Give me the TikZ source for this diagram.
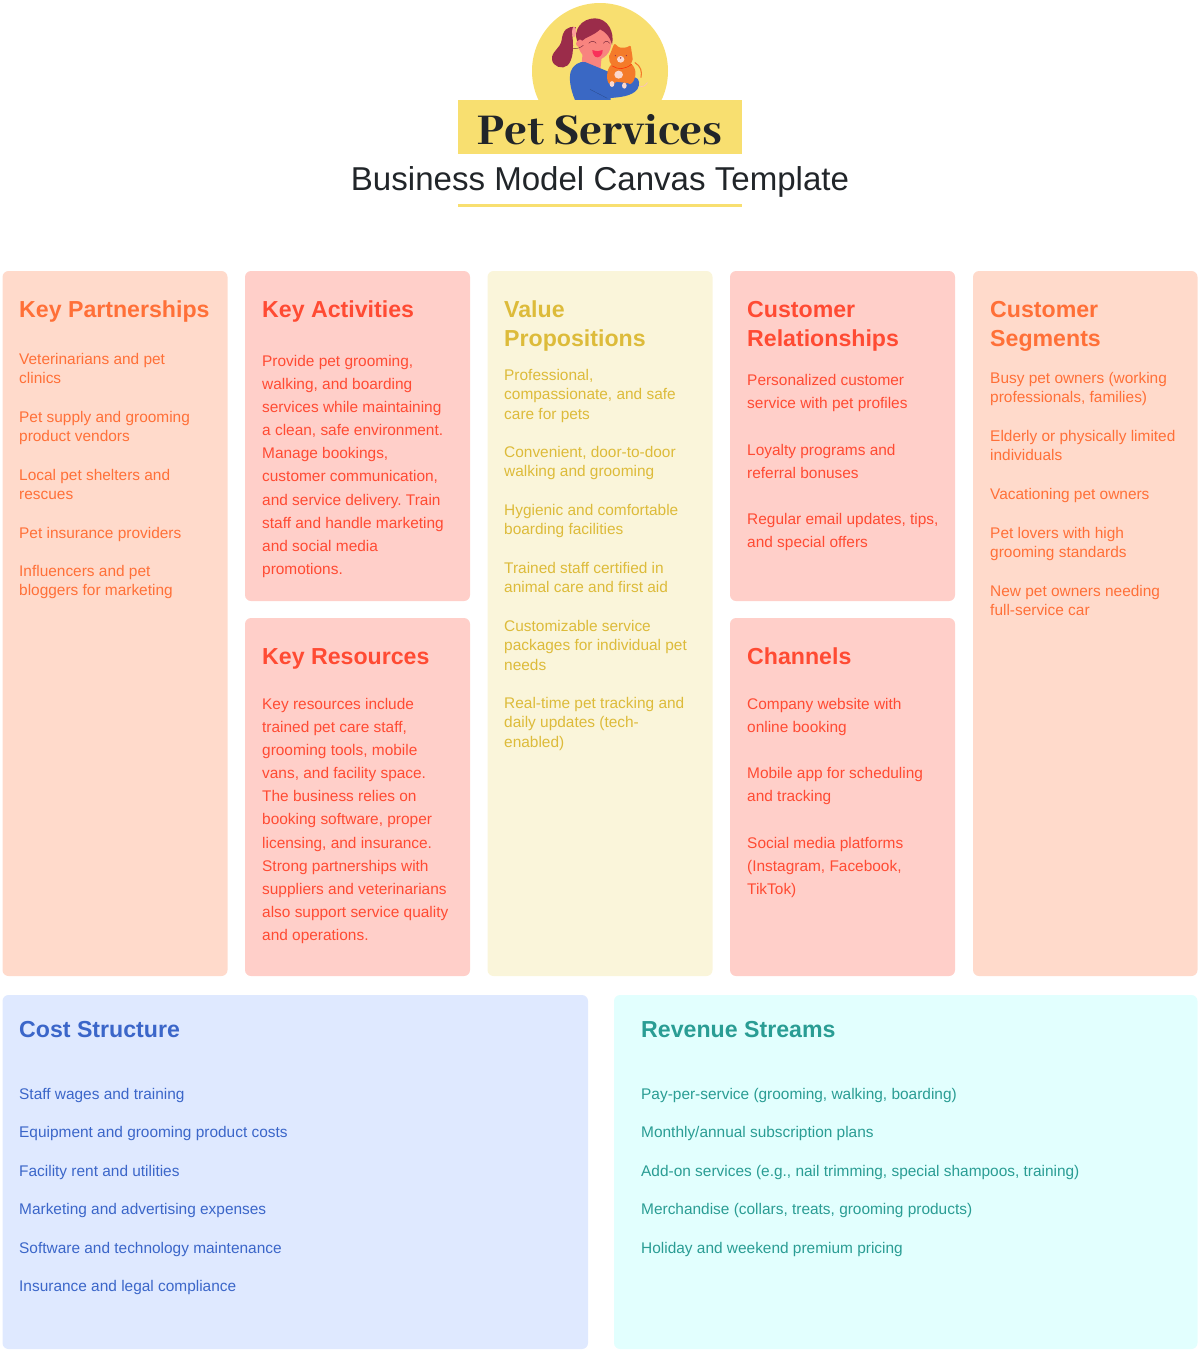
\documentclass[tikz,border=0pt]{standalone}
\usepackage{fontspec}
\setmainfont{Liberation Sans}
\newfontfamily\titlefont{Abhaya Libre ExtraBold}
\newcommand{\st}{\strut}
\frenchspacing
\definecolor{peachbg}{HTML}{FFDACB}\definecolor{peachtx}{HTML}{FF7038}
\definecolor{redbg}{HTML}{FFCFC9}\definecolor{redtx}{HTML}{FF4B33}
\definecolor{yelbg}{HTML}{FAF5DA}\definecolor{yeltx}{HTML}{DDBB3A}
\definecolor{blubg}{HTML}{DFE9FF}\definecolor{blutx}{HTML}{3B66C9}
\definecolor{cyabg}{HTML}{E2FFFE}\definecolor{cyatx}{HTML}{2A9D94}
\definecolor{sun}{HTML}{F8DF70}\definecolor{ink}{HTML}{212529}
\definecolor{hair}{HTML}{9B2C4A}\definecolor{skin}{HTML}{F8847F}
\definecolor{shirt}{HTML}{3A68C4}\definecolor{catf}{HTML}{F47B2A}
\definecolor{pale}{HTML}{FBD8CE}\definecolor{mouthc}{HTML}{F9305A}
\tikzset{
 panel/.style={rounded corners=6pt,draw=none},
 headA/.style={font=\bfseries\fontsize{23.15}{29}\selectfont,inner sep=0pt,align=left,anchor=north west,yshift=20.3pt},
 listA/.style={font=\fontsize{15.43}{19.2}\selectfont,inner sep=0pt,align=left,anchor=north west,yshift=13.44pt},
 listB/.style={font=\fontsize{15.43}{23.05}\selectfont,inner sep=0pt,align=left,anchor=north west,yshift=16.13pt},
}
\begin{document}
\begin{tikzpicture}[x=1pt,y=-1pt]
\useasboundingbox (0,0) rectangle (1200,1352);
% logo
\fill[sun] (600,71) circle[radius=68];
\begin{scope}[shift={(520,0)},x=0.3333pt,y=-0.3333pt]
 \fill[hair] (168,82) .. controls (142,76) and (128,92) .. (125,120) .. controls (122,145) and (93,155) .. (96,178) .. controls (98,200) and (128,210) .. (143,196) .. controls (158,180) and (162,150) .. (157,105) -- cycle;
 \fill[skin!60!pink] (162,96) ellipse[x radius=6,y radius=16];
 \fill[skin] (188,160) -- (185,190) -- (240,222) -- (245,170) -- cycle;
 \fill[skin] (224,128) ellipse[x radius=50,y radius=53];
 \fill[hair] (172,125) .. controls (158,90) and (185,55) .. (225,55) .. controls (262,55) and (285,95) .. (276,135) .. controls (270,108) and (255,95) .. (240,88) .. controls (225,105) and (195,112) .. (187,122) .. controls (180,116) and (174,118) .. (172,125) -- cycle;
 \fill[skin] (178,131) circle[radius=10];
 \draw[hair!70!black,line width=0.4pt,line cap=round] (206,130) .. controls (214,122) and (222,122) .. (229,130);
 \draw[hair!70!black,line width=0.4pt,line cap=round] (250,130) .. controls (255,122) and (264,122) .. (269,130);
 \draw[hair!70!black,line width=0.4pt,line cap=round] (160,146) .. controls (170,147) and (182,143) .. (190,136);
 \fill[mouthc] (217,150) .. controls (230,155) and (240,154) .. (248,150) .. controls (249,165) and (238,172) .. (232,172) .. controls (224,172) and (217,162) .. (217,150) -- cycle;
 \fill[shirt] (165,300) .. controls (150,265) and (147,235) .. (152,215) .. controls (158,195) and (180,183) .. (195,186) -- (265,215) -- (345,232) .. controls (360,235) and (360,255) .. (352,268) .. controls (335,290) and (295,292) .. (272,294) -- (272,300) -- cycle;
 \draw[shirt!70!black,line width=0.3pt] (210,268) -- (262,295);
 \draw[skin!50!white,line width=0.7pt,line cap=round] (358,258) .. controls (368,262) and (376,258) .. (382,248);
 \draw[catf,line width=1.1pt,line cap=round] (345,188) .. controls (362,198) and (367,215) .. (363,232);
 \fill[catf] (262,240) .. controls (258,210) and (270,185) .. (300,183) .. controls (335,180) and (352,205) .. (345,232) .. controls (340,250) and (330,256) .. (325,250) -- (290,245) .. controls (275,258) and (265,255) .. (262,240) -- cycle;
 \fill[pale] (296,224) ellipse[x radius=13,y radius=12];
 \fill[pale] (276,252) ellipse[x radius=7,y radius=9];
 \fill[pale] (313,257) ellipse[x radius=7,y radius=9];
 \fill[catf,rounded corners=1.2pt] (268,168) -- (283,130) -- (298,143) -- (318,143) -- (332,136) -- (338,175) .. controls (337,195) and (315,208) .. (300,208) .. controls (285,208) and (264,190) .. (268,168) -- cycle;
 \fill[pale] (302,178) ellipse[x radius=11,y radius=10];
 \fill[hair] (302,174) circle[radius=2.5];
 \fill[hair] (286,167) circle[radius=2];
 \fill[hair] (319,167) circle[radius=2];
 \draw[red!70!orange,line width=0.5pt,line cap=round] (277,198) .. controls (295,210) and (315,208) .. (335,193);
\end{scope}
\fill[sun] (458,100) rectangle (742,154);
\node[font=\titlefont\fontsize{48.4}{54}\selectfont,text=ink,inner sep=0pt,anchor=base] (brand) at (600,144) {Pet Services};
\node[font=\fontsize{33.07}{40}\selectfont,text=ink,inner sep=0pt,anchor=base] (subtitle) at (600,190) {Business Model Canvas Template};
\fill[sun] (458,203.5) rectangle (742,206.5);
% panels
\fill[panel,peachbg] (2.5,271) rectangle (227.5,976);
\fill[panel,redbg] (245,271) rectangle (470,601);
\fill[panel,redbg] (245,618) rectangle (470,976);
\fill[panel,yelbg] (487.5,271) rectangle (712.5,976);
\fill[panel,redbg] (730,271) rectangle (955,601);
\fill[panel,redbg] (730,618) rectangle (955,976);
\fill[panel,peachbg] (973,271) rectangle (1197.5,976);
\fill[panel,blubg] (2.5,995) rectangle (588,1349);
\fill[panel,cyabg] (614,995) rectangle (1197.5,1349);
% Key Partnerships
\begin{scope}[text=peachtx]
\node[headA] (kph) at (19,317) {\st Key Partnerships};
\node[listA] (kp1) at (19,364.5) {\st Veterinarians and pet\\clinics};
\node[listA] (kp2) at (19,422.5) {\st Pet supply and grooming\\product vendors};
\node[listA] (kp3) at (19,480.5) {\st Local pet shelters and\\rescues};
\node[listA] (kp4) at (19,538.5) {\st Pet insurance providers};
\node[listA] (kp5) at (19,576.5) {\st Influencers and pet\\bloggers for marketing};
\node[headA] (csh) at (990,317) {\st Customer\\Segments};
\node[listA] (cs1) at (990,383.5) {\st Busy pet owners (working\\professionals, families)};
\node[listA] (cs2) at (990,441.5) {\st Elderly or physically limited\\individuals};
\node[listA] (cs3) at (990,499.5) {\st Vacationing pet owners};
\node[listA] (cs4) at (990,538.5) {\st Pet lovers with high\\grooming standards};
\node[listA] (cs5) at (990,596.5) {\st New pet owners needing\\full-service car};
\end{scope}
\begin{scope}[text=redtx]
\node[headA] (kah) at (262,317) {\st Key Activities};
\node[listB] (ka1) at (262,366.5) {\st Provide pet grooming,\\walking, and boarding\\services while maintaining\\a clean, safe environment.\\Manage bookings,\\customer communication,\\and service delivery. Train\\staff and handle marketing\\and social media\\promotions.};
\node[headA] (krh) at (262,664) {\st Key Resources};
\node[listB] (kr1) at (262,709.5) {\st Key resources include\\trained pet care staff,\\grooming tools, mobile\\vans, and facility space.\\The business relies on\\booking software, proper\\licensing, and insurance.\\Strong partnerships with\\suppliers and veterinarians\\also support service quality\\and operations.};
\node[headA] (crh) at (747,317) {\st Customer\\Relationships};
\node[listB] (cr1) at (747,385.5) {\st Personalized customer\\service with pet profiles};
\node[listB] (cr2) at (747,455.5) {\st Loyalty programs and\\referral bonuses};
\node[listB] (cr3) at (747,524.5) {\st Regular email updates, tips,\\and special offers};
\node[headA] (chh) at (747,664) {\st Channels};
\node[listB] (ch1) at (747,709.5) {\st Company website with\\online booking};
\node[listB] (ch2) at (747,778.5) {\st Mobile app for scheduling\\and tracking};
\node[listB] (ch3) at (747,848.5) {\st Social media platforms\\(Instagram, Facebook,\\TikTok)};
\end{scope}
\begin{scope}[text=yeltx]
\node[headA] (vph) at (504,317) {\st Value\\Propositions};
\node[listA] (vp1) at (504,380.5) {\st Professional,\\compassionate, and safe\\care for pets};
\node[listA] (vp2) at (504,457.5) {\st Convenient, door-to-door\\walking and grooming};
\node[listA] (vp3) at (504,515.5) {\st Hygienic and comfortable\\boarding facilities};
\node[listA] (vp4) at (504,573.5) {\st Trained staff certified in\\animal care and first aid};
\node[listA] (vp5) at (504,631.5) {\st Customizable service\\packages for individual pet\\needs};
\node[listA] (vp6) at (504,708.5) {\st Real-time pet tracking and\\daily updates (tech-\\enabled)};
\end{scope}
\begin{scope}[text=blutx]
\node[headA] (coh) at (19,1037) {\st Cost Structure};
\node[listA] (co1) at (19,1099.5) {\st Staff wages and training};
\node[listA] (co2) at (19,1137.5) {\st Equipment and grooming product costs};
\node[listA] (co3) at (19,1176.5) {\st Facility rent and utilities};
\node[listA] (co4) at (19,1214.5) {\st Marketing and advertising expenses};
\node[listA] (co5) at (19,1253.5) {\st Software and technology maintenance};
\node[listA] (co6) at (19,1291.5) {\st Insurance and legal compliance};
\end{scope}
\begin{scope}[text=cyatx]
\node[headA] (reh) at (641,1037) {\st Revenue Streams};
\node[listA] (re1) at (641,1099.5) {\st Pay-per-service (grooming, walking, boarding)};
\node[listA] (re2) at (641,1137.5) {\st Monthly/annual subscription plans};
\node[listA] (re3) at (641,1176.5) {\st Add-on services (e.g., nail trimming, special shampoos, training)};
\node[listA] (re4) at (641,1214.5) {\st Merchandise (collars, treats, grooming products)};
\node[listA] (re5) at (641,1253.5) {\st Holiday and weekend premium pricing};
\end{scope}
\end{tikzpicture}
\end{document}
